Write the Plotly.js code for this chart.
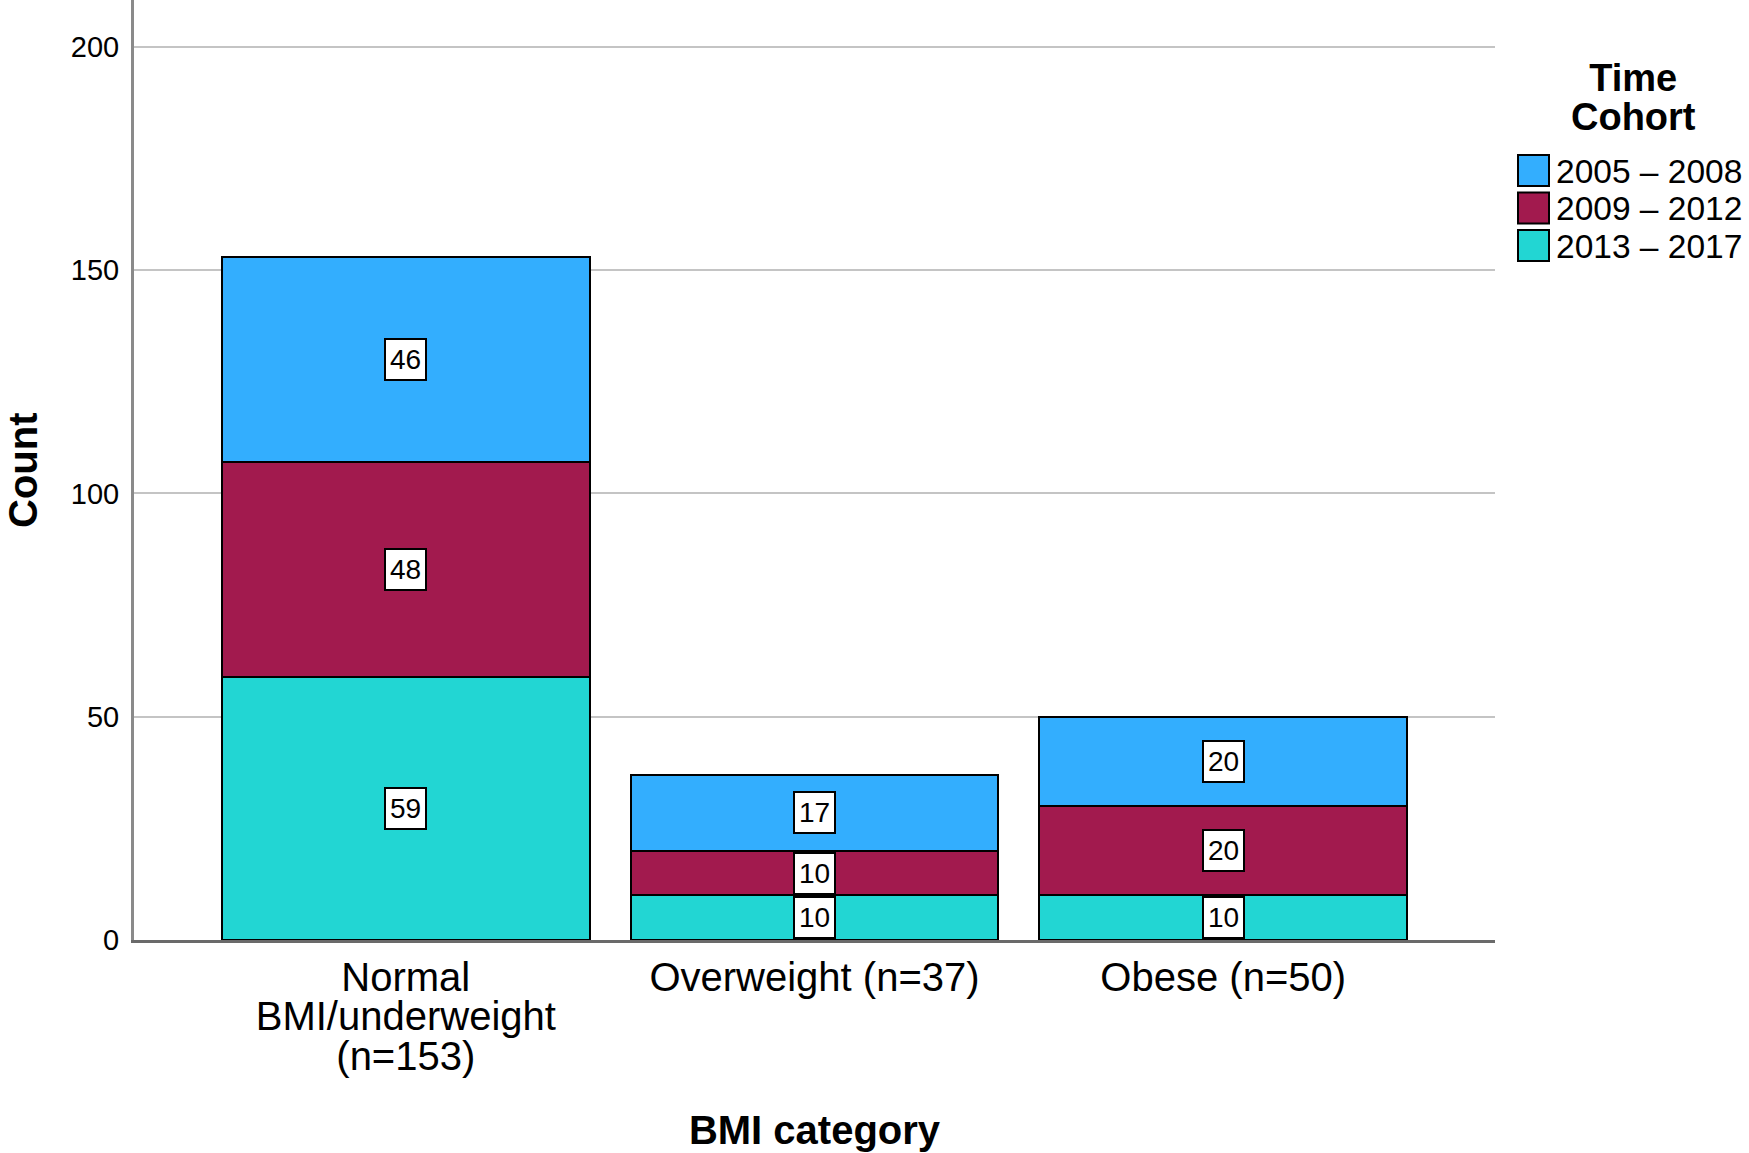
<!DOCTYPE html>
<html>
<head>
<meta charset="utf-8">
<script src="https://cdn.plot.ly/plotly-3.0.1.min.js"></script>
<style>
  html, body { margin: 0; padding: 0; background: #ffffff; }
  #chart { width: 1749px; height: 1153px; }
</style>
</head>
<body>
<div id="chart"></div>
<script>
// BMI category counts, stacked by time cohort
const categories = ["Normal BMI/underweight (n=153)", "Overweight (n=37)", "Obese (n=50)"];
const categoryLines = [["Normal", "BMI/underweight", "(n=153)"], ["Overweight (n=37)"], ["Obese (n=50)"]];
const cohorts = ["2005 – 2008", "2009 – 2012", "2013 – 2017"];
const counts2005to2008 = [46, 17, 20];
const counts2009to2012 = [48, 10, 20];
const counts2013to2017 = [59, 10, 10];
const yTicks = [0, 50, 100, 150, 200];

const FONT = "'Liberation Sans', Arial, sans-serif";
const colors = { "2005 – 2008": "#33aefe", "2009 – 2012": "#a21a4e", "2013 – 2017": "#22d6d3" };

// stacking order: bottom to top
const stackOrder = [
  { name: cohorts[2], values: counts2013to2017 },
  { name: cohorts[1], values: counts2009to2012 },
  { name: cohorts[0], values: counts2005to2008 }
];

const traces = stackOrder.map(s => ({
  type: "bar",
  name: s.name,
  x: categories,
  y: s.values,
  width: 0.9,
  marker: { color: colors[s.name], line: { color: "#000000", width: 2 } },
  showlegend: false,
  hoverinfo: "skip"
}));

// boxed value labels at the middle of each segment
const annotations = [];
const base = categories.map(() => 0);
stackOrder.forEach(s => {
  s.values.forEach((v, i) => {
    annotations.push({
      x: categories[i], y: base[i] + v / 2, xref: "x", yref: "y",
      text: String(v), showarrow: false,
      font: { family: FONT, size: 28, color: "#000000" },
      bgcolor: "#ffffff", bordercolor: "#000000", borderwidth: 2, borderpad: 4
    });
    base[i] += v;
  });
});

// pixel helpers for items placed outside the plot area
const L = 134, R = 1495, B = 940;
const px = p => (p - L) / (R - L);
const py = p => (B - p) / B;

// vertical axis title against the left page edge
annotations.push({
  x: px(0), y: 0.5, xref: "paper", yref: "paper",
  xanchor: "left", yanchor: "middle", showarrow: false, textangle: -90,
  borderpad: 0,
  text: "Count",
  font: { family: FONT, size: 40, weight: 700, color: "#000000" }
});

// legend panel
const shapes = [];
annotations.push({
  x: px(1633), y: py(98), xref: "paper", yref: "paper",
  xanchor: "center", yanchor: "middle", showarrow: false, align: "center",
  text: "<span style='font-size:38px'>Time</span><br><span style='font-size:38px'>Cohort</span>",
  font: { family: FONT, size: 30, weight: 700, color: "#000000" }
});
cohorts.forEach((c, k) => {
  const top = 155 + 37.5 * k;
  shapes.push({
    type: "rect", xref: "paper", yref: "paper",
    x0: px(1518), x1: px(1549), y0: py(top + 31), y1: py(top),
    fillcolor: colors[c], line: { color: "#000000", width: 2 }
  });
  annotations.push({
    x: px(1554), y: py(top + 16), xref: "paper", yref: "paper",
    xanchor: "left", yanchor: "middle", showarrow: false,
    text: c, font: { family: FONT, size: 33.5, color: "#000000" }
  });
});

const tickText = categoryLines.map(lines =>
  lines.map(t => "<span style='font-size:40px'>" + t + "</span>").join("<br>")
);

const layout = {
  width: 1749, height: 1153,
  margin: { l: L, r: 1749 - R, t: 0, b: 1153 - B, pad: 0 },
  paper_bgcolor: "#ffffff", plot_bgcolor: "#ffffff",
  barmode: "stack",
  font: { family: FONT, color: "#000000" },
  xaxis: {
    type: "category",
    range: [-0.665, 2.665],
    tickvals: categories, ticktext: tickText,
    tickfont: { family: FONT, size: 30.5, color: "#000000" },
    ticks: "", ticklabelstandoff: 11,
    showline: true, linecolor: "#6a6a6a", linewidth: 3,
    showgrid: false, zeroline: false,
    title: { text: "BMI category", font: { family: FONT, size: 40, weight: 700, color: "#000000" }, standoff: 40 },
    automargin: false, fixedrange: true
  },
  yaxis: {
    range: [0, 210.5],
    tickvals: yTicks,
    tickfont: { family: FONT, size: 29, color: "#000000" },
    ticks: "", ticklabelstandoff: 6,
    showline: true, linecolor: "#8a8a8a", linewidth: 3,
    showgrid: true, gridcolor: "#c4c4c4", gridwidth: 2,
    zeroline: false,
    automargin: false, fixedrange: true
  },
  annotations: annotations,
  shapes: shapes,
  showlegend: false
};

Plotly.newPlot("chart", traces, layout, { displayModeBar: false, staticPlot: true });
</script>
</body>
</html>
